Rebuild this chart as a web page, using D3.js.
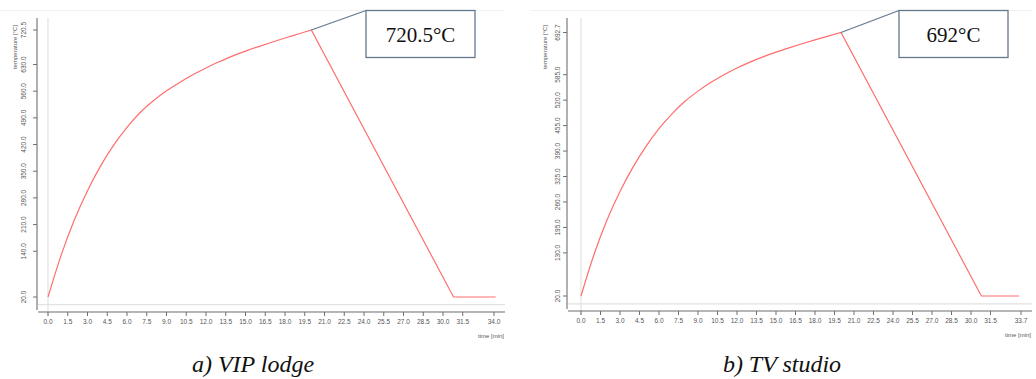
<!DOCTYPE html>
<html>
<head>
<meta charset="utf-8">
<script src="https://cdn.jsdelivr.net/npm/d3@7"></script>
<style>
  body { margin: 0; background: #fff; }
  svg { display: block; }
</style>
</head>
<body>
<svg id="chart" width="1036" height="379"></svg>
<script>
// Fire curves (time in min, temperature in degC)

// a) VIP lodge
var timeA = [0, 1, 2, 3, 4, 5, 6, 7, 8, 9, 10, 11, 12, 13, 14, 15, 16, 17, 18, 19, 20, 30.8, 34.0];
var tempA = [20, 130, 222, 299, 364, 419, 465, 504, 535, 561, 583, 603, 621, 637, 652, 665, 677, 688.5, 699.5, 710, 720.5, 20, 20];
var tickYA = [20.0, 140.0, 210.0, 280.0, 350.0, 420.0, 490.0, 560.0, 630.0, 720.5];
var tickXA = [0, 1.5, 3, 4.5, 6, 7.5, 9, 10.5, 12, 13.5, 15, 16.5, 18, 19.5, 21, 22.5, 24, 25.5, 27, 28.5, 30, 31.5, 34.0];

// b) TV studio
var timeB = [0, 1, 2, 3, 4, 5, 6, 7, 8, 9, 10, 11, 12, 13, 14, 15, 16, 17, 18, 19, 20, 30.8, 33.7];
var tempB = [20, 126, 214, 287, 349, 402, 447, 485, 517, 543, 565.5, 585, 602, 617, 630.5, 642.5, 653.5, 664, 674, 683.5, 692.7, 20, 20];
var tickYB = [20.0, 130.0, 195.0, 260.0, 325.0, 390.0, 455.0, 520.0, 585.0, 692.7];
var tickXB = [0, 1.5, 3, 4.5, 6, 7.5, 9, 10.5, 12, 13.5, 15, 16.5, 18, 19.5, 21, 22.5, 24, 25.5, 27, 28.5, 30, 31.5, 33.7];

var captions = ["a) VIP lodge", "b) TV studio"];
var peakLabels = ["720.5°C", "692°C"];

var svg = d3.select("#chart");

function translate(x, y) {
  return "translate(" + x + " " + y + ")";
}

// Draw one panel
function drawPanel(o) {
  var g = svg.append("g").attr("transform", translate(o.x, 0));

  var x = d3.scaleLinear().domain([0, 30]).range([o.x0, o.x30]);
  var y = d3.scaleLinear().domain([20, o.yTop]).range([o.y20, o.yTopPx]);

  // faint frame top
  g.append("line")
    .attr("x1", 0).attr("x2", o.axisRight)
    .attr("y1", 10.5).attr("y2", 10.5)
    .style("stroke", "#f2f2f2").style("stroke-width", 1);

  // zero lines
  g.append("line")
    .attr("x1", x(0)).attr("x2", x(0))
    .attr("y1", 18).attr("y2", o.xAxisY + 4)
    .style("stroke", "#e2e2e2").style("stroke-width", 1.2);
  g.append("line")
    .attr("x1", o.yAxisX + 1).attr("x2", o.axisRight)
    .attr("y1", y(0)).attr("y2", y(0))
    .style("stroke", "#e2e2e2").style("stroke-width", 1.2);

  // Y axis
  g.append("line")
    .attr("x1", o.yAxisX).attr("x2", o.yAxisX)
    .attr("y1", 18).attr("y2", o.xAxisY - 2)
    .style("stroke", "#6f6f6f").style("stroke-width", 1.1);

  var yt = g.append("g").selectAll("g").data(o.tickY).join("g")
    .attr("transform", function(d) { return translate(0, y(d)); });
  yt.append("line")
    .attr("x1", o.yAxisX - 4).attr("x2", o.yAxisX)
    .style("stroke", "#6f6f6f");
  yt.append("text")
    .attr("transform", function(d) { return translate(o.yAxisX - o.labelOff, 0) + " rotate(-90)"; })
    .attr("dy", "0.35em")
    .style("text-anchor", "middle")
    .style("font-family", "Arial, 'Liberation Sans', sans-serif")
    .style("font-size", "6.5px")
    .style("fill", "#555")
    .text(function(d) { return d.toFixed(1); });

  g.append("text")
    .attr("transform", translate(o.yAxisX - 22, 47) + " rotate(-90)")
    .attr("dy", "0.35em")
    .style("text-anchor", "middle")
    .style("font-family", "Arial, 'Liberation Sans', sans-serif")
    .style("font-size", "6px")
    .style("fill", "#555")
    .text("temperature [°C]");

  // X axis
  g.append("line")
    .attr("x1", o.yAxisX + 1).attr("x2", o.axisRight)
    .attr("y1", o.xAxisY).attr("y2", o.xAxisY)
    .style("stroke", "#6f6f6f").style("stroke-width", 1.1);

  var xt = g.append("g").selectAll("g").data(o.tickX).join("g")
    .attr("transform", function(d, i) {
      var px = (i == o.tickX.length - 1) ? o.xLast : x(d);
      return translate(px, o.xAxisY);
    });
  xt.append("line")
    .attr("y1", 0).attr("y2", 4)
    .style("stroke", "#6f6f6f");
  xt.append("text")
    .attr("y", 12)
    .style("text-anchor", "middle")
    .style("font-family", "Arial, 'Liberation Sans', sans-serif")
    .style("font-size", "6.5px")
    .style("fill", "#555")
    .text(function(d) { return d.toFixed(1); });

  g.append("text")
    .attr("x", o.axisRight - 1)
    .attr("y", o.xAxisY + 26)
    .style("text-anchor", "end")
    .style("font-family", "Arial, 'Liberation Sans', sans-serif")
    .style("font-size", "6px")
    .style("fill", "#555")
    .text("time [min]");

  // curve: smooth growth phase, straight decay and flat tail
  var pts = o.time.map(function(t, i) { return [x(t), y(o.temp[i])]; });
  var nGrow = o.time.length - 2;
  var grow = d3.line().curve(d3.curveMonotoneX)(pts.slice(0, nGrow));
  var tail = d3.line()(pts.slice(nGrow - 1));
  g.append("path")
    .attr("d", grow + tail.replace(/^M/, "L"))
    .style("fill", "none")
    .style("stroke", "#ff6e6e")
    .style("stroke-width", 1.2);

  // peak callout
  var peak = pts[nGrow - 1];
  g.append("line")
    .attr("x1", peak[0]).attr("y1", peak[1])
    .attr("x2", o.boxX).attr("y2", 10.5)
    .style("stroke", "#66788c").style("stroke-width", 1.3);
  g.append("rect")
    .attr("x", o.boxX).attr("y", 10.5)
    .attr("width", 109).attr("height", 47)
    .style("fill", "#fff")
    .style("stroke", "#66788c").style("stroke-width", 1.3);
  g.append("text")
    .attr("x", o.boxX + 54.5).attr("y", 42)
    .style("text-anchor", "middle")
    .style("font-family", "'Liberation Serif', 'Times New Roman', serif")
    .style("font-size", "21px")
    .style("fill", "#111")
    .text(o.label);

  // caption
  g.append("text")
    .attr("x", o.capX).attr("y", 372)
    .style("text-anchor", "middle")
    .style("font-family", "'Liberation Serif', 'Times New Roman', serif")
    .style("font-style", "italic")
    .style("font-size", "24px")
    .style("fill", "#111")
    .text(o.caption);
}

drawPanel({
  x: 0, time: timeA, temp: tempA, tickY: tickYA, tickX: tickXA,
  x0: 48, x30: 443, xLast: 494, yTop: 720.5, y20: 297, yTopPx: 30,
  yAxisX: 37, labelOff: 13, xAxisY: 312, axisRight: 505,
  boxX: 366, label: peakLabels[0], capX: 253, caption: captions[0]
});

drawPanel({
  x: 530, time: timeB, temp: tempB, tickY: tickYB, tickX: tickXB,
  x0: 51, x30: 441, xLast: 491, yTop: 692.7, y20: 296, yTopPx: 32.5,
  yAxisX: 37, labelOff: 9, xAxisY: 311, axisRight: 502,
  boxX: 369, label: peakLabels[1], capX: 252, caption: captions[1]
});
</script>
</body>
</html>
